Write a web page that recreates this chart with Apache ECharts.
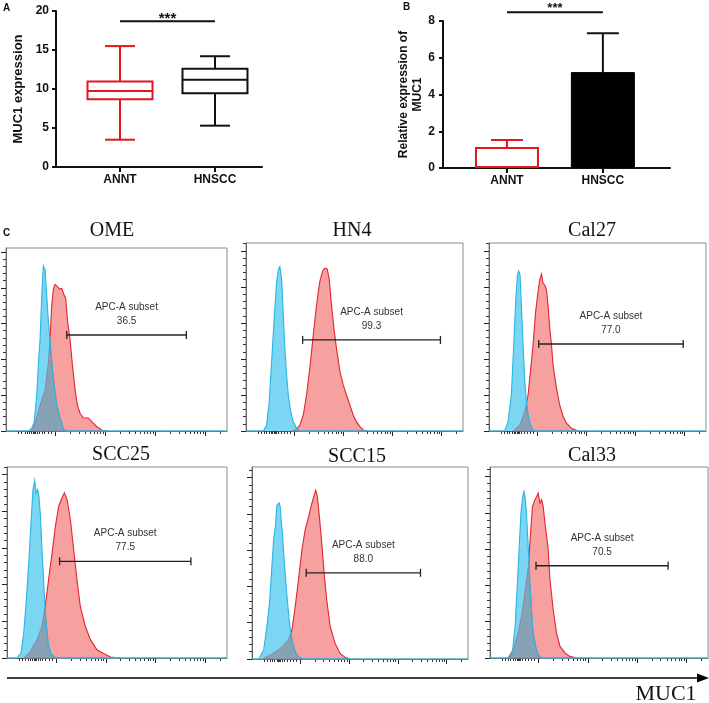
<!DOCTYPE html>
<html><head><meta charset="utf-8">
<script src="https://cdn.jsdelivr.net/npm/echarts@6/dist/echarts.min.js"></script>
<style>html,body{margin:0;padding:0;background:#fff}#c{width:709px;height:703px}</style>
</head><body><div id="c"></div>
<script>
// ---------- Panel A: box plot ----------
const groups = ['ANNT', 'HNSCC'];
const boxMin = [3.5, 5.3];
const boxQ1 = [8.7, 9.45];
const boxMedian = [9.75, 11.2];
const boxQ3 = [10.95, 12.6];
const boxMax = [15.5, 14.2];
const sigA = 18.7;
// ---------- Panel B: bars ----------
const barMean = [1.14, 5.22];
const barUpper = [1.52, 7.34];
const sigB = 8.48;
// ---------- Panel C: flow histograms (x: % of log display width, y: counts) ----------
const cellLines = ['OME', 'HN4', 'Cal27', 'SCC25', 'SCC15', 'Cal33'];
const gatePct = [36.5, 99.3, 77.0, 77.5, 88.0, 70.5];
const gateStart = [27.5, 26.1, 22.9, 23.9, 25.1, 21.1];
const gateEnd = [81.6, 89.6, 89.5, 83.6, 78.0, 81.7];
const gateLevel = [53.6, 50.6, 48.3, 52.7, 47.5, 50.8];

const isoOME = [[0,0],[10.1,0],[11.6,1.5],[12.7,4.5],[13.9,20],[14.7,38.7],[15.4,50.8],[16.2,75.9],[16.9,92.3],[17.7,89.9],[18.4,75.9],[19.2,61],[19.9,50.8],[20.7,38.7],[21.5,28.5],[23.0,14.5],[24.5,7.1],[25.2,4.5],[26.0,1.1],[27.5,0],[100,0]];
const mucOME = [[11.6,0],[13.1,4.5],[15.4,14.5],[17.7,22.9],[19.2,38.7],[19.9,50.8],[20.7,70.3],[21.5,79.6],[22.2,81.9],[23.3,80.6],[24.2,79.3],[25.2,79.6],[26.3,75.9],[27.0,74],[27.9,61],[29.0,50.8],[30.2,35],[31.3,22.9],[32.3,14.5],[33.5,9.9],[35.0,7.4],[37.2,7.3],[38.8,5.2],[41.1,2.4],[43.4,0.4],[45.6,0]];
const isoHN4 = [[0,0],[8.0,0],[9.5,3.3],[10.7,16.3],[11.8,38.5],[12.9,60.7],[14.1,83],[15.0,90],[15.6,91.3],[16.4,84.8],[17.2,64.4],[17.9,45.9],[18.7,31.1],[19.5,20],[20.6,10.7],[21.8,5.2],[23.3,1.5],[24.8,0],[100,0]];
const mucHN4 = [[21.0,0],[23.3,0.9],[24.8,3.3],[26.4,8.9],[27.9,20],[29.4,34.8],[31.0,53.3],[32.5,70],[34.0,83],[35.3,88.9],[36.3,90.4],[37.4,90],[38.3,84.8],[39.4,70],[40.5,57],[41.7,45.9],[43.3,33],[44.8,25.6],[46.3,20],[47.9,14.4],[49.4,8.9],[50.9,5.2],[52.5,2.4],[54.0,0.6],[55.5,0]];
const isoCal27 = [[0,0],[7.2,0],[8.8,5.2],[10.3,20],[11.4,47.8],[12.3,71.9],[13.1,86.7],[13.7,88.9],[14.3,86.7],[14.9,70],[15.7,47.8],[16.5,27.4],[17.2,16.3],[18.0,8.9],[19.1,3.3],[20.3,0.6],[21.5,0],[100,0]];
const mucCal27 = [[11.1,0],[14.2,3.3],[16.5,10.7],[18.0,20],[19.1,33],[20.3,47.8],[21.5,66.3],[22.6,77.4],[23.4,83.9],[24.2,87.2],[24.9,82],[25.7,81.1],[26.5,78.3],[27.2,70],[28.0,57],[28.8,47.8],[29.5,36.7],[31.1,23.7],[32.6,14.4],[34.2,8],[35.7,4.3],[38.0,1.5],[41.1,0]];
const isoSCC25 = [[0,0],[4.5,0],[6.4,2.7],[7.6,13.6],[8.8,31.8],[9.8,50],[10.9,73.6],[11.8,91.8],[12.6,96.9],[13.2,90],[13.9,91.8],[14.5,88.2],[15.2,77.3],[15.9,59.1],[16.7,40.9],[17.4,24.5],[18.2,13.6],[18.9,6.4],[20.0,2.4],[22.0,0],[100,0]];
const mucSCC25 = [[7.6,0],[10.6,3.6],[13.6,10],[15.9,17.3],[17.4,28.2],[18.9,42.7],[20.5,57.3],[22.0,71.8],[23.5,82.7],[25.0,87.3],[26.1,90],[27.3,86.4],[28.8,75.5],[30.3,59.1],[31.8,42.7],[33.3,28.2],[35.6,17.3],[37.9,10],[40.9,4.5],[43.9,2.4],[47.0,0.5],[51.5,0]];
const isoSCC15 = [[0,0],[3.1,0],[5.4,5],[6.9,17.8],[8.2,32.5],[9.2,50.8],[10.0,65.5],[10.8,72.8],[11.5,84.8],[12.5,86.1],[13.1,83.9],[13.5,76.5],[14.2,67.3],[14.9,54.5],[15.7,41.7],[16.5,30.6],[17.2,21.5],[18.0,14.1],[18.9,8.3],[20.0,4],[21.5,1.3],[23.8,0],[100,0]];
const mucSCC15 = [[4.6,0],[8.5,2.2],[13.1,5.9],[16.9,10.5],[18.5,16],[20.0,28.8],[21.5,43.5],[23.1,60],[24.6,71],[26.2,78.3],[27.7,85.7],[28.8,90.3],[29.5,93],[30.3,89.4],[31.2,78.3],[32.3,63.7],[33.4,47.2],[34.6,32.5],[36.2,17.8],[38.5,8.6],[40.8,3.1],[43.1,0.9],[45.4,0]];
const isoCal33 = [[0,0],[9.2,0],[10.4,4.6],[11.5,17.4],[12.5,39.4],[13.4,61.5],[14.2,79.8],[15.0,89],[15.6,91.7],[16.2,88.1],[16.8,78],[17.6,59.6],[18.3,41.3],[19.1,24.8],[19.8,13.8],[21.1,5.5],[22.1,1.8],[23.7,0],[100,0]];
const mucCal33 = [[8.4,0],[10.7,4.6],[12.5,11.9],[14.5,22.9],[16.0,35.8],[17.6,50.5],[18.6,68.8],[19.5,83.5],[20.6,87.2],[21.4,89],[22.1,90.8],[22.9,85.3],[23.7,87.2],[24.4,83.5],[25.2,74.3],[26.0,67],[26.7,59.6],[27.5,43.1],[29.0,26.6],[30.5,13.8],[32.1,6.4],[34.4,2.8],[36.6,0.9],[39.7,0]];
const isoCurves = [isoOME, isoHN4, isoCal27, isoSCC25, isoSCC15, isoCal33];
const mucCurves = [mucOME, mucHN4, mucCal27, mucSCC25, mucSCC15, mucCal33];

// log-display tick layout of the flow axes (in % of width)
const decadePos = [22.3, 44.9, 67.5, 90.1];
const decadeWidth = 22.6;
const lowTicks = [5.5, 7, 8.5, 9.5, 10.5, 11.5, 12.3, 12.8, 13.3, 14, 15, 16.2, 17.5, 19, 20.5];

// ---------- layout (pixels) ----------
const layoutC = [
  {left:6,   top:248, width:221, height:183, yMax:102.2, tx:112, ty:231},
  {left:246, top:243, width:217, height:188, yMax:104.4, tx:352, ty:231},
  {left:489, top:243, width:217, height:188, yMax:104.4, tx:592, ty:231},
  {left:7,   top:467, width:220, height:191, yMax:104.1, tx:121, ty:455},
  {left:252, top:467, width:216, height:192, yMax:105.8, tx:357, ty:457},
  {left:490, top:467, width:218, height:191, yMax:105.2, tx:592, ty:456}
];
const SANS = 'Arial, "Liberation Sans", Helvetica, sans-serif';
const SERIF = '"Times New Roman", "Liberation Serif", "DejaVu Serif", serif';
const RED = '#e3161c';
const RED_FILL = '#f6a0a0', RED_LINE = '#e2262b';
const BLUE_FILL = '#7ad6f2', BLUE_LINE = '#2bb5e2';
const OVER_FILL = '#86a2b4', OVER_LINE = '#8c86a6';

const majorX = decadePos.slice();
const minorX = lowTicks.slice();
decadePos.forEach(d => { for (let k = 2; k <= 9; k++) { const v = d + decadeWidth * Math.log10(k); if (v < 100) minorX.push(+v.toFixed(2)); } });
const majorY = [0, 20, 40, 60, 80, 100];
function minorYFor(yMax) { const r = []; for (let v = 4; v <= yMax; v += 4) if (v % 20 !== 0) r.push(v); return r; }

// geometry helper: region under both histograms (for the overlap shading)
function curveAt(C, x) {
  if (x < C[0][0] || x > C[C.length - 1][0]) return 0;
  for (let i = 0; i < C.length - 1; i++) {
    const a = C[i], b = C[i + 1];
    if (x >= a[0] && x <= b[0]) return b[0] === a[0] ? Math.min(a[1], b[1]) : a[1] + (b[1] - a[1]) * (x - a[0]) / (b[0] - a[0]);
  }
  return 0;
}
function overlapOutline(A, B) {
  const lo = Math.max(A[0][0], B[0][0]), hi = Math.min(A[A.length - 1][0], B[B.length - 1][0]);
  if (hi <= lo) return [];
  const xs = Array.from(new Set(A.map(p => p[0]).concat(B.map(p => p[0])).filter(x => x >= lo && x <= hi).concat([lo, hi]))).sort((p, q) => p - q);
  const out = [];
  for (let i = 0; i < xs.length; i++) {
    const x = xs[i], fa = curveAt(A, x), fb = curveAt(B, x);
    out.push([x, Math.min(fa, fb)]);
    if (i < xs.length - 1) {
      const x2 = xs[i + 1], d0 = fa - fb, d1 = curveAt(A, x2) - curveAt(B, x2);
      if (d0 * d1 < 0) { const xc = x + (x2 - x) * d0 / (d0 - d1); out.push([xc, curveAt(A, xc)]); }
    }
  }
  out[0][1] = 0; out[out.length - 1][1] = 0;
  return out;
}

const chart = echarts.init(document.getElementById('c'), null, {renderer: 'canvas', width: 709, height: 703});

const grids = [
  {left: 56, top: 11, width: 206, height: 156},
  {left: 443, top: 21, width: 227, height: 147}
];
layoutC.forEach(L => grids.push({left: L.left, top: L.top, width: L.width, height: L.height, show: true, borderColor: '#8c8c8c', borderWidth: 1}));

const boldLabel = {color: '#111', fontFamily: SANS, fontWeight: 'bold', fontSize: 12};
const xAxes = [
  {gridIndex: 0, type: 'value', min: -0.674, max: 1.495, position: 'bottom',
   axisLine: {show: true, onZero: false, lineStyle: {color: '#111', width: 2}},
   axisTick: {show: true, customValues: [0, 1], length: 5, lineStyle: {color: '#111', width: 2}},
   axisLabel: Object.assign({customValues: [0, 1], formatter: v => groups[Math.round(v)], margin: 7}, boldLabel),
   splitLine: {show: false}},
  {gridIndex: 1, type: 'value', min: -0.667, max: 1.70, position: 'bottom',
   axisLine: {show: true, onZero: false, lineStyle: {color: '#111', width: 2}},
   axisTick: {show: true, customValues: [0, 1], length: 5, lineStyle: {color: '#111', width: 2}},
   axisLabel: Object.assign({customValues: [0, 1], formatter: v => groups[Math.round(v)], margin: 7}, boldLabel),
   splitLine: {show: false}}
];
const yAxes = [
  {gridIndex: 0, type: 'value', min: 0, max: 20, interval: 5, position: 'left',
   axisLine: {show: true, onZero: false, lineStyle: {color: '#111', width: 2}},
   axisTick: {show: true, length: 4, lineStyle: {color: '#111', width: 2}},
   axisLabel: Object.assign({margin: 7}, boldLabel), splitLine: {show: false},
   name: 'MUC1 expression', nameLocation: 'middle', nameGap: 31, nameRotate: 90,
   nameTextStyle: {color: '#111', fontFamily: SANS, fontWeight: 'bold', fontSize: 13}},
  {gridIndex: 1, type: 'value', min: 0, max: 8, interval: 2, position: 'left',
   axisLine: {show: true, onZero: false, lineStyle: {color: '#111', width: 2}},
   axisTick: {show: true, length: 4, lineStyle: {color: '#111', width: 2}},
   axisLabel: Object.assign({margin: 8}, boldLabel), splitLine: {show: false},
   name: 'Relative expression of\nMUC1', nameLocation: 'middle', nameGap: 14, nameRotate: 90,
   nameTextStyle: {color: '#111', fontFamily: SANS, fontWeight: 'bold', fontSize: 12, lineHeight: 14}}
];
layoutC.forEach((L, k) => {
  const g = k + 2;
  xAxes.push({gridIndex: g, type: 'value', min: 0, max: 100, position: 'bottom',
    axisLine: {show: true, onZero: false, lineStyle: {color: '#666', width: 1}},
    axisTick: {show: true, customValues: majorX, length: 5, lineStyle: {color: '#222', width: 1}},
    axisLabel: {show: false}, splitLine: {show: false}});
  xAxes.push({gridIndex: g, type: 'value', min: 0, max: 100, position: 'bottom',
    axisLine: {show: false, onZero: false},
    axisTick: {show: true, customValues: minorX, length: 3, lineStyle: {color: '#333', width: 1}},
    axisLabel: {show: false}, splitLine: {show: false}});
  yAxes.push({gridIndex: g, type: 'value', min: 0, max: L.yMax, position: 'left',
    axisLine: {show: true, onZero: false, lineStyle: {color: '#666', width: 1}},
    axisTick: {show: true, customValues: majorY, length: 5, lineStyle: {color: '#222', width: 1}},
    axisLabel: {show: false}, splitLine: {show: false}});
  yAxes.push({gridIndex: g, type: 'value', min: 0, max: L.yMax, position: 'left',
    axisLine: {show: false, onZero: false},
    axisTick: {show: true, customValues: minorYFor(L.yMax), length: 3, lineStyle: {color: '#333', width: 1}},
    axisLabel: {show: false}, splitLine: {show: false}});
});

function txt(text, x, y, font, fill, align, valign) {
  return {type: 'text', x: x, y: y, style: {text: text, font: font, fill: fill || '#111',
    align: align || 'center', verticalAlign: valign || 'middle', textAlign: align || 'center', textVerticalAlign: valign || 'middle'}};
}

function sigSeries(xi, yi, level, size, dy) {
  return {type: 'custom', xAxisIndex: xi, yAxisIndex: yi, clip: false, z: 5,
    data: [[0, 1, level]],
    renderItem: function (params, api) {
      const a = api.coord([api.value(0), api.value(2)]);
      const b = api.coord([api.value(1), api.value(2)]);
      return {type: 'group', children: [
        {type: 'line', shape: {x1: a[0], y1: a[1], x2: b[0], y2: b[1]}, style: {stroke: '#111', lineWidth: 2}},
        txt('***', (a[0] + b[0]) / 2, a[1] + dy, 'bold ' + size + 'px ' + SANS, '#111')
      ]};
    }};
}

const boxColors = [RED, '#111'];
const errColors = [RED, '#111'];
const series = [
  {type: 'custom', xAxisIndex: 0, yAxisIndex: 0, z: 3,
   data: groups.map((g, i) => [i, boxMin[i], boxQ1[i], boxMedian[i], boxQ3[i], boxMax[i]]),
   renderItem: function (params, api) {
     const i = api.value(0);
     const x = api.coord([i, 0])[0];
     const y = d => api.coord([i, api.value(d)])[1];
     const yMin = y(1), yQ1 = y(2), yMed = y(3), yQ3 = y(4), yMax = y(5);
     const hw = 32.5, cw = 15, c = boxColors[params.dataIndex];
     const st = {stroke: c, lineWidth: 2, fill: null};
     const ln = (x1, y1, x2, y2) => ({type: 'line', shape: {x1, y1, x2, y2}, style: st});
     return {type: 'group', children: [
       {type: 'rect', shape: {x: x - hw, y: yQ3, width: 2 * hw, height: yQ1 - yQ3}, style: {stroke: c, lineWidth: 2, fill: null}},
       ln(x - hw, yMed, x + hw, yMed),
       ln(x, yQ3, x, yMax), ln(x, yQ1, x, yMin),
       ln(x - cw, yMax, x + cw, yMax), ln(x - cw, yMin, x + cw, yMin)
     ]};
   }},
  sigSeries(0, 0, sigA, 15, -2),
  {type: 'bar', xAxisIndex: 1, yAxisIndex: 1, barWidth: 64, z: 2,
   data: [
     {value: [0, barMean[0]], itemStyle: {color: '#fff', borderColor: RED, borderWidth: 2}},
     {value: [1, barMean[1]], itemStyle: {color: '#000', borderColor: '#000', borderWidth: 1}}
   ]},
  {type: 'custom', xAxisIndex: 1, yAxisIndex: 1, z: 3,
   data: groups.map((g, i) => [i, barMean[i], barUpper[i]]),
   renderItem: function (params, api) {
     const a = api.coord([api.value(0), api.value(1)]);
     const b = api.coord([api.value(0), api.value(2)]);
     const c = errColors[params.dataIndex];
     return {type: 'group', children: [
       {type: 'line', shape: {x1: a[0], y1: a[1], x2: b[0], y2: b[1]}, style: {stroke: c, lineWidth: 2}},
       {type: 'line', shape: {x1: b[0] - 16, y1: b[1], x2: b[0] + 16, y2: b[1]}, style: {stroke: c, lineWidth: 2}}
     ]};
   }},
  sigSeries(1, 1, sigB, 13, -4)
];

layoutC.forEach((L, k) => {
  const ax = 2 + 2 * k;
  const muc = mucCurves[k], iso = isoCurves[k];
  // MUC1-stained histogram (red)
  series.push({type: 'custom', name: cellLines[k] + ' MUC1', xAxisIndex: ax, yAxisIndex: ax, clip: false, z: 2,
    data: muc,
    renderItem: function (params, api) {
      if (params.dataIndex !== 0) return null;
      const P = muc.map(p => api.coord(p));
      return {type: 'group', children: [
        {type: 'polygon', shape: {points: P}, style: {fill: RED_FILL, stroke: null}},
        {type: 'polyline', shape: {points: P}, style: {fill: null, stroke: RED_LINE, lineWidth: 1.1}}
      ]};
    }});
  // isotype control histogram (blue) with overlap shading
  series.push({type: 'custom', name: cellLines[k] + ' control', xAxisIndex: ax, yAxisIndex: ax, clip: false, z: 3,
    data: iso,
    renderItem: function (params, api) {
      if (params.dataIndex !== 0) return null;
      const P = iso.map(p => api.coord(p));
      const O = overlapOutline(iso, muc).map(p => api.coord(p));
      return {type: 'group', children: [
        {type: 'polygon', shape: {points: P}, style: {fill: BLUE_FILL, stroke: null}},
        {type: 'polygon', shape: {points: O}, style: {fill: OVER_FILL, stroke: OVER_LINE, lineWidth: 1}},
        {type: 'polyline', shape: {points: P}, style: {fill: null, stroke: BLUE_LINE, lineWidth: 1.1}}
      ]};
    }});
  series.push({type: 'custom', xAxisIndex: ax, yAxisIndex: ax, clip: false, z: 6,
    data: [[gateStart[k], gateEnd[k], gateLevel[k], gatePct[k]]],
    renderItem: function (params, api) {
      const a = api.coord([api.value(0), api.value(2)]);
      const b = api.coord([api.value(1), api.value(2)]);
      const mx = (a[0] + b[0]) / 2, st = {stroke: '#222', lineWidth: 1.3};
      return {type: 'group', children: [
        {type: 'line', shape: {x1: a[0], y1: a[1], x2: b[0], y2: b[1]}, style: st},
        {type: 'line', shape: {x1: a[0], y1: a[1] - 4, x2: a[0], y2: a[1] + 4}, style: st},
        {type: 'line', shape: {x1: b[0], y1: b[1] - 4, x2: b[0], y2: b[1] + 4}, style: st},
        txt('APC-A subset', mx, a[1] - 28, '10px ' + SANS, '#333'),
        txt(api.value(3).toFixed(1), mx, a[1] - 14, '10px ' + SANS, '#333')
      ]};
    }});
});

const graphics = [
  txt('A', 3, 3, 'bold 10px ' + SANS, '#111', 'left', 'top'),
  txt('B', 403, 2, 'bold 10px ' + SANS, '#111', 'left', 'top'),
  txt('C', 3, 228, 'bold 10px ' + SANS, '#111', 'left', 'top'),
  {type: 'line', shape: {x1: 7, y1: 678, x2: 700, y2: 678}, style: {stroke: '#000', lineWidth: 1.5}},
  {type: 'polygon', shape: {points: [[697, 673.5], [709, 678], [697, 682.5]]}, style: {fill: '#000'}},
  txt('MUC1', 666, 694, '22px ' + SERIF, '#111')
];
layoutC.forEach((L, k) => graphics.push(txt(cellLines[k], L.tx, L.ty, '20px ' + SERIF, '#111')));

chart.setOption({
  backgroundColor: '#ffffff',
  animation: false,
  grid: grids,
  xAxis: xAxes,
  yAxis: yAxes,
  series: series,
  graphic: {elements: graphics}
});
</script>
</body></html>
